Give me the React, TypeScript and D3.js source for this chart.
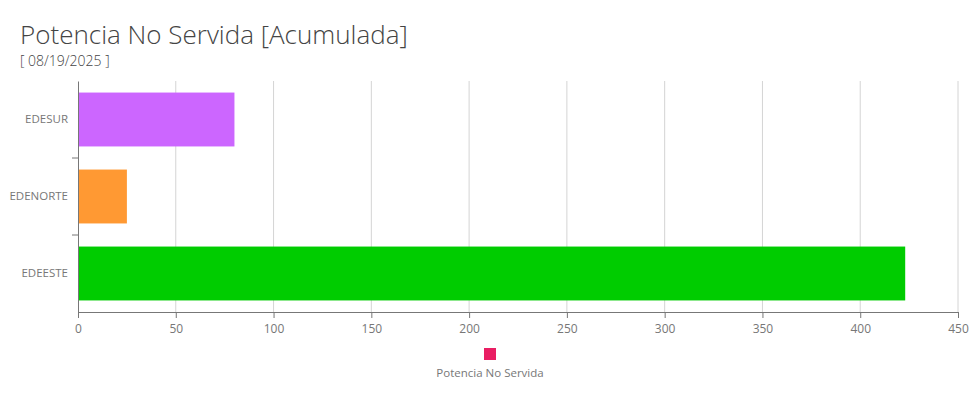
import React, { useEffect, useRef } from 'react';
import * as d3 from 'd3';

const categories = ['EDESUR', 'EDENORTE', 'EDEESTE'];
const values = [80, 25, 423];
const barColors = ['#cc66ff', '#ff9933', '#00cc00'];
const xTicks = [0, 50, 100, 150, 200, 250, 300, 350, 400, 450];
const seriesName = 'Potencia No Servida';
const legendColor = '#e91e63';

const App: React.FC = () => {
  const svgRef = useRef<SVGSVGElement>(null);

  useEffect(() => {
    if (!svgRef.current) return;
    const svg = d3.select(svgRef.current);
    svg.selectAll('*').remove();

    const width = 980;
    const height = 420;
    const margin = { top: 81, right: 22, bottom: 108, left: 78 };
    const font = "'Segoe UI', 'Open Sans', sans-serif";

    const x = d3.scaleLinear()
      .domain([0, 450])
      .range([margin.left, width - margin.right]);

    const y = d3.scaleBand()
      .domain(categories)
      .range([margin.top, height - margin.bottom])
      .paddingInner(0.3)
      .paddingOuter(0.15);

    // title
    svg.append('text')
      .attr('x', 20)
      .attr('y', 44)
      .attr('font-family', font)
      .attr('font-weight', 300)
      .attr('font-size', 26)
      .attr('fill', '#444')
      .text('Potencia No Servida [Acumulada]');

    svg.append('text')
      .attr('x', 20)
      .attr('y', 66)
      .attr('font-family', font)
      .attr('font-weight', 300)
      .attr('font-size', 14)
      .attr('fill', '#444')
      .text('[ 08/19/2025 ]');

    // grid
    svg.append('g')
      .selectAll('line')
      .data(xTicks.slice(1))
      .join('line')
      .attr('x1', d => x(d))
      .attr('x2', d => x(d))
      .attr('y1', margin.top)
      .attr('y2', height - margin.bottom)
      .attr('stroke', '#d4d4d4')
      .attr('stroke-width', 1);

    // bars
    svg.append('g')
      .selectAll('rect')
      .data(categories)
      .join('rect')
      .attr('x', x(0))
      .attr('y', d => y(d)!)
      .attr('width', (_, i) => x(values[i]) - x(0))
      .attr('height', y.bandwidth())
      .attr('fill', (_, i) => barColors[i]);

    // x axis
    const xAxis = svg.append('g')
      .attr('transform', `translate(0,${height - margin.bottom})`)
      .call(d3.axisBottom(x).tickValues(xTicks).tickSize(6).tickPadding(6).tickSizeOuter(0));
    xAxis.select('.domain').attr('stroke', '#777');
    xAxis.selectAll('.tick line').attr('stroke', '#777');
    xAxis.selectAll('.tick text')
      .attr('fill', '#777')
      .attr('font-size', 12)
      .attr('font-family', font);

    // y axis
    const yAxis = svg.append('g')
      .attr('transform', `translate(${margin.left},0)`)
      .call(d3.axisLeft(y).tickSize(0).tickPadding(10));
    yAxis.select('.domain').attr('stroke', '#777');
    yAxis.selectAll('.tick text')
      .attr('fill', '#777')
      .attr('font-size', 11.5)
      .attr('font-family', font);

    // separators between bands
    const step = y.step();
    const bounds = categories.slice(1).map(c => y(c)! - (step - y.bandwidth()) / 2);
    svg.append('g')
      .selectAll('line')
      .data(bounds)
      .join('line')
      .attr('x1', margin.left - 6)
      .attr('x2', margin.left)
      .attr('y1', d => d)
      .attr('y2', d => d)
      .attr('stroke', '#777');

    // legend
    const cx = 490;
    svg.append('rect')
      .attr('x', cx - 6)
      .attr('y', 348)
      .attr('width', 12)
      .attr('height', 12)
      .attr('fill', legendColor);
    svg.append('text')
      .attr('x', cx)
      .attr('y', 377)
      .attr('text-anchor', 'middle')
      .attr('font-family', font)
      .attr('font-size', 11.5)
      .attr('fill', '#777')
      .text(seriesName);
  }, []);

  return (
    <svg
      ref={svgRef}
      width={980}
      height={420}
      style={{ position: 'absolute', left: 0, top: 0, background: '#fff' }}
    />
  );
};

export default App;
